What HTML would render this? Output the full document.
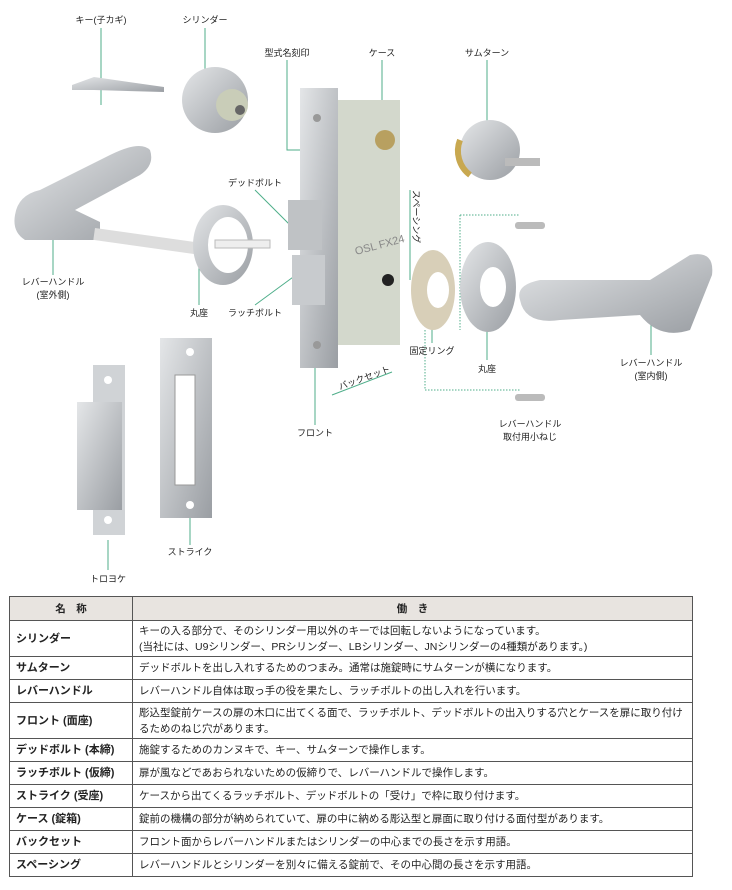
<!DOCTYPE html>
<html><head><meta charset="utf-8"><style>
body{margin:0;width:732px;height:890px;background:#fff;font-family:"Liberation Sans","Noto Sans CJK JP",sans-serif;position:relative;overflow:hidden}
svg{position:absolute;left:0;top:0}
table{position:absolute;left:9px;top:596px;width:684px;border-collapse:collapse;font-size:10.5px;color:#222}
td,th{border:1.5px solid #555;padding:0 6px;line-height:16px;text-align:left;height:22px}
tr.d td{height:35px}
th{background:#e8e4e0;height:23px;text-align:center;font-size:10.5px}
td.n{width:110px;font-weight:bold;font-size:11px}
</style></head><body>
<svg width="732" height="590" font-size="9" fill="#222" font-family="Liberation Sans, Noto Sans CJK JP, sans-serif">
<defs><linearGradient id="m" x1="0" y1="0" x2="1" y2="1"><stop offset="0" stop-color="#e4e6e8"/><stop offset="1" stop-color="#9a9ea3"/></linearGradient></defs>
<g stroke="#4fae8a" stroke-width="1" fill="none">
<path d="M101 28V105M205 28V98M287 60V150H300M382 60V125M487 60V125M255 190L300 235M255 305L300 272M53 275V240M199 305V265M432 343V300M487 360V325M651 355V300M315 425V360M190 545V505M108 570V540"/>
</g>
<g stroke="#4fae8a" stroke-dasharray="1.5 1.5" fill="none"><path d="M460 215H520M460 215V330M425 330V390H520"/></g>
<path d="M72 85l22-8 70 10 0 5-70-2-22 0z" fill="url(#m)"/>
<circle cx="215" cy="100" r="33" fill="url(#m)"/><circle cx="232" cy="105" r="16" fill="#c9cdb8"/><circle cx="240" cy="110" r="5" fill="#666"/>
<path d="M15 215Q18 195 40 190L110 155Q140 140 150 150Q155 165 140 175L75 210 100 222 100 240 25 240Q12 232 15 215z" fill="url(#m)"/>
<rect x="95" y="228" width="150" height="12" fill="#ddd" transform="rotate(8 95 228)"/>
<ellipse cx="223" cy="245" rx="30" ry="40" fill="url(#m)"/><ellipse cx="228" cy="245" rx="20" ry="28" fill="#fff"/>
<rect x="215" y="240" width="55" height="8" fill="#eee" stroke="#bbb"/>
<rect x="338" y="100" width="62" height="245" fill="#d3d8cc"/>
<rect x="300" y="88" width="38" height="280" fill="url(#m)"/>
<circle cx="317" cy="118" r="4" fill="#999"/><circle cx="317" cy="225" r="4" fill="#999"/><circle cx="317" cy="345" r="4" fill="#999"/>
<rect x="288" y="200" width="34" height="50" fill="#bfc2c5"/><rect x="292" y="255" width="33" height="50" fill="#c8cbce"/>
<circle cx="385" cy="140" r="10" fill="#b8a060"/><circle cx="388" cy="280" r="6" fill="#222"/>
<text x="356" y="255" font-size="11" fill="#888" transform="rotate(-15 356 255)">OSL FX24</text>
<circle cx="490" cy="150" r="30" fill="url(#m)"/><path d="M460 140a30 30 0 0 0 10 35" stroke="#c8a850" stroke-width="6" fill="none"/>
<rect x="505" y="158" width="35" height="8" fill="#bbb"/>
<ellipse cx="433" cy="290" rx="22" ry="40" fill="#d8cfb8"/><ellipse cx="438" cy="290" rx="11" ry="18" fill="#fff"/>
<ellipse cx="488" cy="287" rx="28" ry="45" fill="url(#m)"/><ellipse cx="493" cy="287" rx="13" ry="20" fill="#fff"/>
<rect x="515" y="222" width="30" height="7" rx="3" fill="#bbb"/><rect x="515" y="394" width="30" height="7" rx="3" fill="#bbb"/>
<path d="M520 300Q515 285 540 280L650 280 690 255Q715 250 712 275L690 330Q660 340 640 315L560 320Q525 325 520 300z" fill="url(#m)"/>
<rect x="160" y="338" width="52" height="180" fill="url(#m)"/><rect x="175" y="375" width="20" height="110" fill="#fff" stroke="#999"/>
<circle cx="190" cy="352" r="4" fill="#fff"/><circle cx="190" cy="505" r="4" fill="#fff"/>
<rect x="93" y="365" width="32" height="170" fill="#d0d3d6"/><rect x="77" y="402" width="45" height="108" fill="url(#m)"/>
<circle cx="108" cy="380" r="4" fill="#fff"/><circle cx="108" cy="520" r="4" fill="#fff"/>
<g stroke="#4fae8a" fill="none"><path d="M410 190V280M332 395L392 372"/></g>
<text x="413" y="190" font-size="9" transform="rotate(90 413 190)">スペーシング</text>
<text x="340" y="390" font-size="9" transform="rotate(-20 340 390)">バックセット</text>
<g text-anchor="middle">
<text x="101" y="23">キー(子カギ)</text><text x="205" y="23">シリンダー</text>
<text x="287" y="56">型式名刻印</text><text x="382" y="56">ケース</text><text x="487" y="56">サムターン</text>
<text x="255" y="186">デッドボルト</text>
<text x="53" y="285">レバーハンドル</text><text x="53" y="298">(室外側)</text>
<text x="199" y="316">丸座</text><text x="255" y="316">ラッチボルト</text>
<text x="432" y="354">固定リング</text><text x="487" y="372">丸座</text>
<text x="651" y="366">レバーハンドル</text><text x="651" y="379">(室内側)</text>
<text x="530" y="427">レバーハンドル</text><text x="530" y="440">取付用小ねじ</text>
<text x="315" y="436">フロント</text><text x="190" y="555">ストライク</text><text x="108" y="582">トロヨケ</text>
</g>
</svg>
<table>
<tr><th>名　称</th><th>働　き</th></tr>
<tr class="d"><td class="n">シリンダー</td><td>キーの入る部分で、そのシリンダー用以外のキーでは回転しないようになっています。<br>(当社には、U9シリンダー、PRシリンダー、LBシリンダー、JNシリンダーの4種類があります。)</td></tr>
<tr><td class="n">サムターン</td><td>デッドボルトを出し入れするためのつまみ。通常は施錠時にサムターンが横になります。</td></tr>
<tr><td class="n">レバーハンドル</td><td>レバーハンドル自体は取っ手の役を果たし、ラッチボルトの出し入れを行います。</td></tr>
<tr class="d"><td class="n">フロント (面座)</td><td>彫込型錠前ケースの扉の木口に出てくる面で、ラッチボルト、デッドボルトの出入りする穴とケースを扉に取り付けるためのねじ穴があります。</td></tr>
<tr><td class="n">デッドボルト (本締)</td><td>施錠するためのカンヌキで、キー、サムターンで操作します。</td></tr>
<tr><td class="n">ラッチボルト (仮締)</td><td>扉が風などであおられないための仮締りで、レバーハンドルで操作します。</td></tr>
<tr><td class="n">ストライク (受座)</td><td>ケースから出てくるラッチボルト、デッドボルトの「受け」で枠に取り付けます。</td></tr>
<tr><td class="n">ケース (錠箱)</td><td>錠前の機構の部分が納められていて、扉の中に納める彫込型と扉面に取り付ける面付型があります。</td></tr>
<tr><td class="n">バックセット</td><td>フロント面からレバーハンドルまたはシリンダーの中心までの長さを示す用語。</td></tr>
<tr><td class="n">スペーシング</td><td>レバーハンドルとシリンダーを別々に備える錠前で、その中心間の長さを示す用語。</td></tr>
</table>
</body></html>
